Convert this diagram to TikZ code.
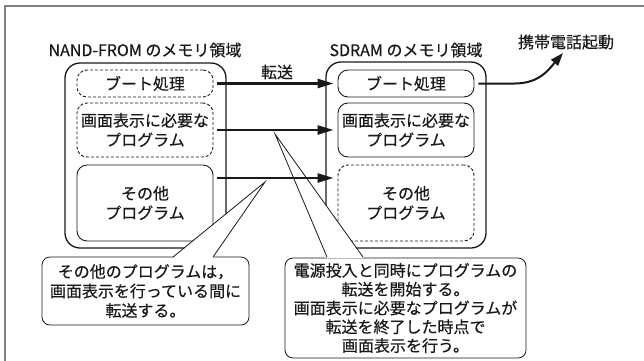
\documentclass[tikz,border=0pt]{standalone}
\usepackage{fontspec}
\setmainfont[FakeBold=0.35]{Noto Sans CJK JP}
\usetikzlibrary{arrows.meta}
\begin{document}
\begin{tikzpicture}[x=1pt,y=-1pt,
  every node/.style={font=\fontsize{16}{19.5}\selectfont, align=center, inner sep=0pt, text=black!90},
  outerbox/.style={draw=black!90, line width=1.3pt, rounded corners=15pt},
  ibox/.style={draw=black!90, line width=0.9pt, rounded corners=10pt, minimum width=136pt},
  dbox/.style={ibox, dash pattern=on 3pt off 2pt},
  xfer/.style={draw=black!90, line width=2.5pt, -{Triangle[length=16pt,width=9pt]}, shorten <=4pt, shorten >=4pt},
  callout/.style={draw=black!90, fill=white, line width=0.8pt, rounded corners=8pt},
  pointer/.style={draw=black!90, line width=0.8pt}]
\useasboundingbox (0,0) rectangle (644,360);
% frame
\draw[black!50, line width=1.3pt] (5,365) -- (5,6) -- (650,6);
% outer boxes
\node[outerbox, minimum width=161pt, minimum height=185pt] (lo) at (145.5,155.5) {};
\node[outerbox, minimum width=160pt, minimum height=186pt] (ro) at (406,155) {};
\node (lt) at (145,50) {NAND-FROM のメモリ領域};
\node (rt) at (406,50) {SDRAM のメモリ領域};
% inner boxes left
\node[dbox, minimum height=27pt] (l1) at (145,83.5) {ブート処理};
\node[dbox, minimum height=54pt] (l2) at (145,130) {画面表示に必要な\\プログラム};
\node[ibox, minimum height=76pt] (l3) at (145,203) {その他\\プログラム};
% inner boxes right
\node[ibox, minimum height=27pt] (r1) at (406,83.5) {ブート処理};
\node[ibox, minimum height=54pt] (r2) at (406,130) {画面表示に必要な\\プログラム};
\node[dbox, minimum height=76pt] (r3) at (406,203) {その他\\プログラム};
% callouts
\node[callout, minimum width=207pt, minimum height=68pt] (c1) at (145.5,291) {その他のプログラムは，\\画面表示を行っている間に\\転送する。};
\node[callout, minimum width=241pt, minimum height=100pt, font=\fontsize{16}{18.8}\selectfont] (c2) at (405.5,308) {電源投入と同時にプログラムの\\転送を開始する。\\画面表示に必要なプログラムが\\転送を終了した時点で\\画面表示を行う。};
\coordinate (p1a) at (173,257);
\coordinate (p1t) at (265,182);
\coordinate (p1b) at (213,257);
\coordinate (p2a) at (327,257);
\coordinate (p2t) at (275,134);
\coordinate (p2b) at (363,257);
\fill[white] (173,258) -- (p1t) -- (213,258) -- cycle;
\draw[pointer] (p1a) -- (p1t) -- (p1b);
\fill[white] (327,258) -- (p2t) -- (363,258) -- cycle;
\draw[pointer] (p2a) -- (p2t) -- (p2b);
% transfer arrows
\draw[xfer] (l1) -- (r1);
\draw[xfer] (l2) -- (r2);
\draw[xfer] ([yshift=25pt]l3.east) -- ([yshift=25pt]r3.west);
\node (tl) at (277,72) {転送};
% boot arrow
\node (boot) at (566,42) {携帯電話起動};
\coordinate (bt) at (563,53);
\draw[draw=black!90, line width=2pt, -{Triangle[length=13pt,width=9pt]}, shorten <=4pt]
  (r1.east) -- (515,83.5) .. controls (540,83.5) and (550,68) .. (bt);
\end{tikzpicture}
\end{document}
